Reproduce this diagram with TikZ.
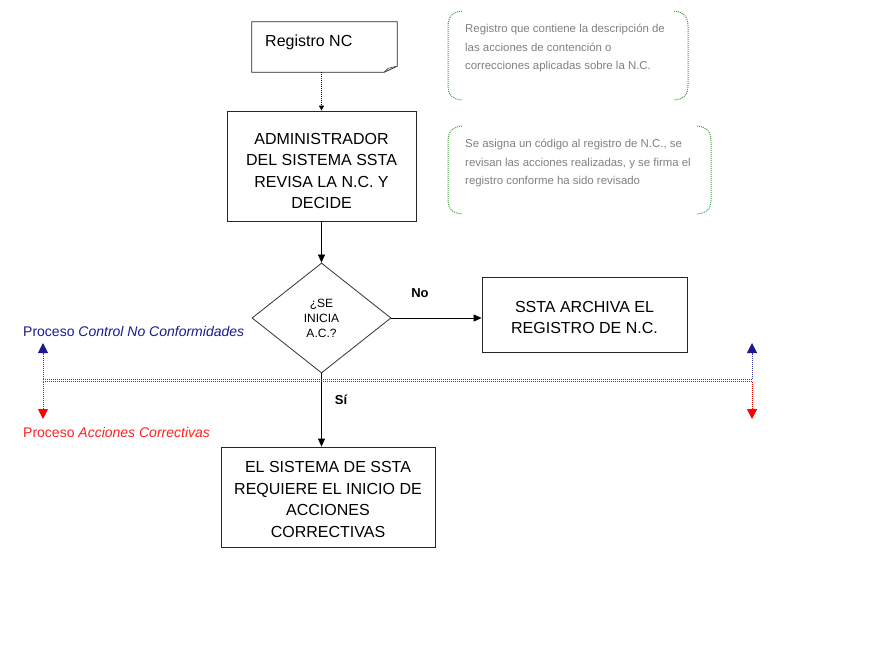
\documentclass[tikz,border=0pt]{standalone}
\usepackage{fontspec}
\setmainfont{Liberation Sans}
\usetikzlibrary{shapes.geometric,arrows.meta}
\definecolor{navyb}{HTML}{1A1A8C}
\definecolor{lineblue}{HTML}{3A3AB0}
\definecolor{notegray}{HTML}{808080}
\definecolor{notegreen}{HTML}{3FA040}
\definecolor{redlbl}{HTML}{FF2020}
\begin{document}
\begin{tikzpicture}[x=1pt,y=-1pt,
  box/.style={draw=black!85, line width=0.8pt, inner sep=0pt},
  boxtxt/.style={align=center, font=\fontsize{16}{21.5}\selectfont, inner sep=0pt},
  arr/.style={-{Triangle[width=7pt,length=8pt]}, line width=0.8pt},
  darr/.style={dash pattern=on 1pt off 1pt, line width=0.8pt, -{Triangle[width=5pt,length=5pt]}},
  note/.style={text=notegray, font=\fontsize{11.4}{18.5}\selectfont, align=left, anchor=north west, inner sep=0pt},
  brk/.style={draw=notegreen, dash pattern=on 1pt off 1pt, line width=1pt},
  yesno/.style={font=\bfseries\fontsize{13}{13}\selectfont, inner sep=0pt},
  proc/.style={anchor=west, inner sep=0pt, font=\fontsize{14}{14}\selectfont},
  parrB/.style={lineblue, dash pattern=on 1pt off 1pt, line width=1pt, -{Triangle[width=10pt,length=10pt,color=navyb]}},
  parrR/.style={red, dash pattern=on 1pt off 1pt, line width=1pt, -{Triangle[width=10pt,length=10pt]}}
]
\useasboundingbox (0,0) rectangle (880,660);

% document shape "Registro NC"
\node[minimum width=145pt, minimum height=50pt, inner sep=0pt] (reg) at (324.5,47) {};
\draw[line width=0.8pt, draw=black!85] (reg.north west) -- (reg.north east) -- ([yshift=6pt]reg.south east) -- ([xshift=-13pt]reg.south east) -- (reg.south west) -- cycle;
\draw[line width=0.6pt, draw=black!70] ([xshift=-13pt]reg.south east) -- ([xshift=-9pt,yshift=4pt]reg.south east) -- ([yshift=6pt]reg.south east);
\node[anchor=west, inner sep=0pt, font=\fontsize{16}{16}\selectfont] (regtxt) at (265,42) {Registro NC};

\node[box, minimum width=189pt, minimum height=110pt] (adm) at (321.5,166) {};
\node[boxtxt] (admt) at ([yshift=-5pt]adm.center) {ADMINISTRADOR\\DEL SISTEMA SSTA\\REVISA LA N.C. Y\\DECIDE};

\node[draw=black!80, line width=0.8pt, shape=diamond, minimum width=139pt, minimum height=110pt, inner sep=0pt, align=center, font=\fontsize{12}{15}\selectfont] (dec) at (321.5,318) {¿SE\\INICIA\\A.C.?};

\node[box, minimum width=205pt, minimum height=75pt] (arch) at (584.5,314.5) {};
\node[boxtxt] (archt) at ([yshift=-3pt]arch.center) {SSTA ARCHIVA EL\\REGISTRO DE N.C.};

\node[box, minimum width=214pt, minimum height=100pt] (sis) at (328,497) {};
\node[boxtxt] (sist) at ([yshift=-2.5pt]sis.center) {EL SISTEMA DE SSTA\\REQUIERE EL INICIO DE\\ACCIONES\\CORRECTIVAS};

% connectors
\draw[darr] (adm.north |- reg.south) -- (adm.north);
\draw[arr] (adm.south) -- (dec.north);
\draw[arr] (dec.east) -- (dec.east -| arch.west);
\draw[arr] (dec.south) -- (dec.south |- sis.north);
\node[yesno] (no) at (420,293) {No};
\node[yesno] (si) at (341,400) {Sí};

% process boundary
\coordinate (bl) at (43,379);
\coordinate (br) at (752,379);
\coordinate (bl2) at (43,381.5);
\coordinate (br2) at (752,381.5);
\coordinate (blu) at (43,343);
\coordinate (bru) at (752,343);
\coordinate (bld) at (43,419);
\coordinate (brd) at (752,419);
\draw[lineblue, dash pattern=on 1pt off 1pt, line width=1pt] (bl) -- (br);
\draw[red, dash pattern=on 1pt off 1pt, line width=1pt] (bl2) -- (br2);
\draw[parrB] (bl) -- (blu);
\draw[parrB] (br) -- (bru);
\draw[parrR] (bl2) -- (bld);
\draw[parrR] (br2) -- (brd);
\node[proc, text=navyb] (lblA) at (23,331) {Proceso \textit{Control No Conformidades}};
\node[proc, text=redlbl] (lblB) at (23,432) {Proceso \textit{Acciones Correctivas}};

% callouts
\draw[brk] (462,11) .. controls (451,12) and (448,18) .. (448,27) -- (448,85) .. controls (448,94) and (451,99) .. (462,100);
\draw[brk] (674,11) .. controls (685,12) and (688,18) .. (688,27) -- (688,85) .. controls (688,94) and (685,99) .. (674,100);
\node[note] (n1) at (465,24) {Registro que contiene la descripción de\\las acciones  de contención o\\correcciones aplicadas sobre la N.C.};

\draw[brk] (462,126) .. controls (451,127) and (448,133) .. (448,142) -- (448,199) .. controls (448,208) and (451,213) .. (462,214);
\draw[brk] (697,126) .. controls (708,127) and (711,133) .. (711,142) -- (711,199) .. controls (711,208) and (708,213) .. (697,214);
\node[note] (n2) at (465,139) {Se asigna un código al registro de N.C., se\\revisan las acciones realizadas, y se firma el\\registro conforme ha sido revisado};
\end{tikzpicture}
\end{document}
